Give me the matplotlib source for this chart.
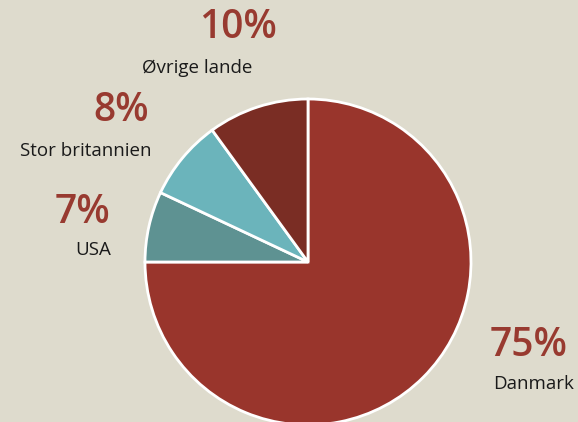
import matplotlib
matplotlib.use("Agg")
import matplotlib.pyplot as plt

# data, clockwise from 12 o'clock
labels = ["Danmark", "USA", "Stor britannien", "Øvrige lande"]
shares = [75, 7, 8, 10]
colors = ["#99352c", "#5e9292", "#6bb4bb", "#7a2d24"]

# label anchor positions in pixels (x, y from top)
pct_pos = [(529, 346), (82, 213), (121, 111), (238, 28)]
name_pos = [(534, 384), (93, 250), (86, 151), (197, 68)]

W, H = 578, 422
bg = "#dedbcd"
red_text = "#983a30"

fig = plt.figure(figsize=(W / 100, H / 100), dpi=100)
fig.patch.set_facecolor(bg)
ax = fig.add_axes([0, 0, 1, 1])
ax.set_facecolor(bg)

ax.pie(shares, colors=colors, startangle=90, counterclock=False,
       center=(308, H - 262), radius=163, frame=True,
       wedgeprops=dict(edgecolor="white", linewidth=2))
ax.set_xlim(0, W)
ax.set_ylim(0, H)
ax.set_aspect("equal")
ax.axis("off")

for lab, s, (px, py), (nx, ny) in zip(labels, shares, pct_pos, name_pos):
    ax.text(px, H - py, f"{s}%", ha="center", va="center", fontsize=28,
            fontweight="semibold", color=red_text, family="Open Sans")
    ax.text(nx, H - ny, lab, ha="center", va="center", fontsize=13.5,
            color="#1a1a1a", family="Open Sans")

fig.savefig("out.png", dpi=100, facecolor=bg)
